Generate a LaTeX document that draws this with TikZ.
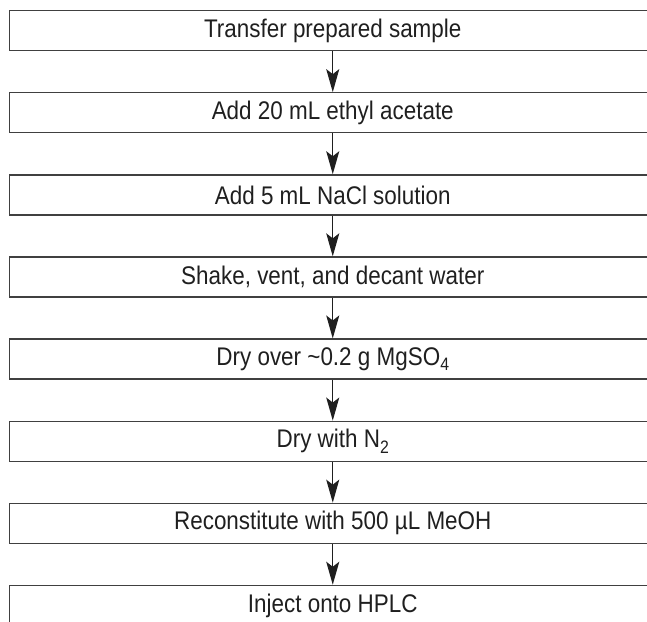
\documentclass[tikz,border=0pt]{standalone}
\usepackage{fontspec}
\setmainfont{Liberation Sans}[FakeStretch=0.88]
\usetikzlibrary{arrows.meta}
\newcommand{\sbs}[1]{\raisebox{-0.4ex}{\fontsize{18pt}{18pt}\selectfont #1}}
\tikzset{
  stepbox/.style={draw=black!75, line width=1.3pt, minimum width=646.5pt, minimum height=40pt,
    inner sep=0pt, font=\fontsize{25.5pt}{25.5pt}\selectfont, text=black!88},
  flowarrow/.style={draw=black!88, line width=1.4pt, -{Stealth[length=23pt,width=13pt,inset=5pt]}}
}
\begin{document}
\begin{tikzpicture}[x=1pt,y=1pt]
\useasboundingbox (0,0) rectangle (647,-621);
\clip (0,0) rectangle (647,-621);
\node[stepbox] (b1) at (332.75,-30.7) {Transfer prepared sample};
\node[stepbox] (b2) at (332.75,-112.8) {Add 20 mL ethyl acetate};
\node[stepbox] (b3) at (332.75,-194.9) {Add 5 mL NaCl solution};
\node[stepbox] (b4) at (332.75,-277.0) {Shake, vent, and decant water};
\node[stepbox] (b5) at (332.75,-359.1) {Dry over \textasciitilde0.2 g MgSO\sbs{4}};
\node[stepbox] (b6) at (332.75,-441.2) {Dry with N\sbs{2}};
\node[stepbox] (b7) at (332.75,-523.3) {Reconstitute with 500 µL MeOH};
\node[stepbox] (b8) at (332.75,-605.4) {Inject onto HPLC};
\foreach \a/\b in {b1/b2,b2/b3,b3/b4,b4/b5,b5/b6,b6/b7,b7/b8}
  \draw[flowarrow] (\a.south) -- (\b.north);
\end{tikzpicture}
\end{document}
